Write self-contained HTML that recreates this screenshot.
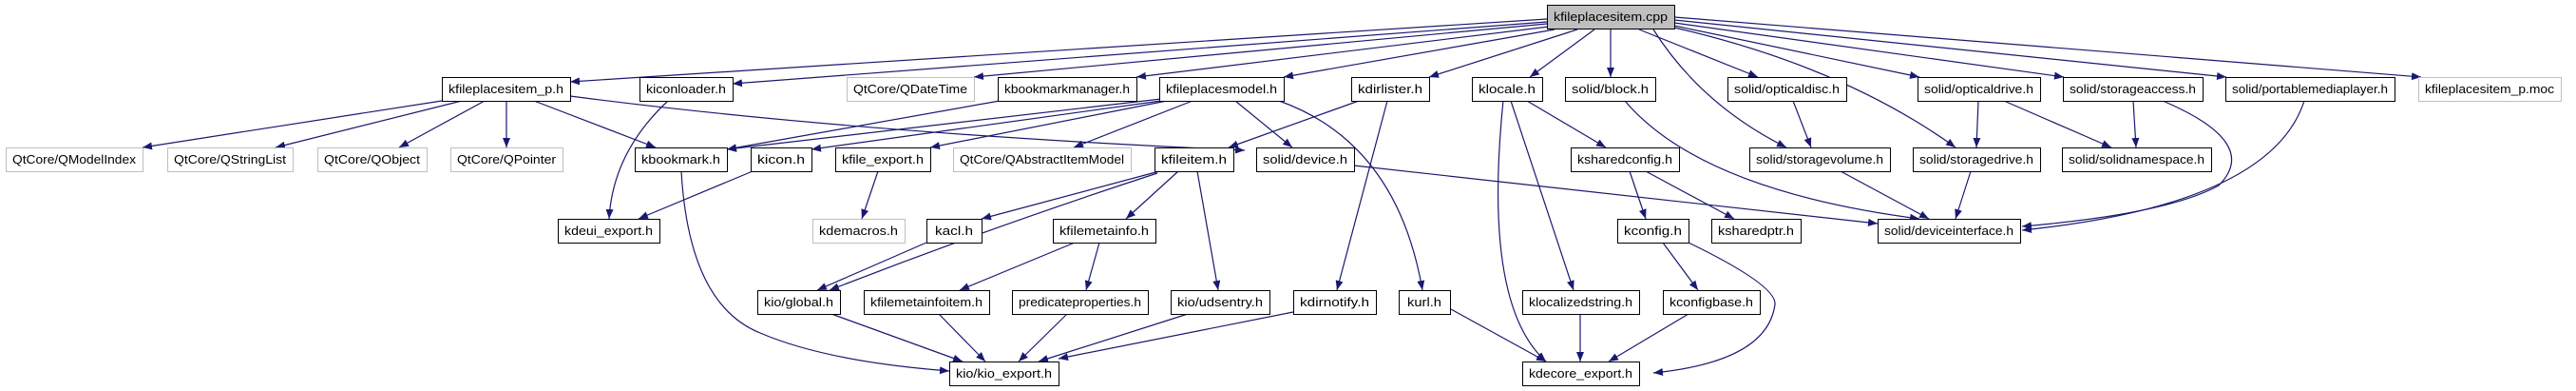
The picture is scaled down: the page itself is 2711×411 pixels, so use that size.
<!DOCTYPE html>
<html><head><meta charset="utf-8"><style>
html,body{margin:0;padding:0;background:#fff;}
svg{display:block;}
text{font-family:"Liberation Sans",sans-serif;font-size:13px;fill:#000;}
.e{fill:none;stroke:#191970;stroke-width:1.2;}
rect{fill:#fff;stroke:#000;stroke-width:1;}
rect.g{stroke:#bfbfbf;}
rect.c{fill:#bfbfbf;}
</style></head><body>
<svg width="2711" height="411" viewBox="0 0 2711 411" xmlns="http://www.w3.org/2000/svg">
<defs><marker id="a" viewBox="0 0 10 10" refX="10" refY="5" markerWidth="10" markerHeight="10" markerUnits="userSpaceOnUse" orient="auto"><path d="M0,1 L10,5 L0,9 z" fill="#191970"/></marker></defs>
<g marker-end="url(#a)">
<path class="e" d="M1628,20 L600,86"/>
<path class="e" d="M1628,23 L771,88"/>
<path class="e" d="M1628,25 L1025,81"/>
<path class="e" d="M1630,28 L1196,81"/>
<path class="e" d="M1636,31 L1351,81"/>
<path class="e" d="M1660,31 L1504,81"/>
<path class="e" d="M1678,31 L1610,81"/>
<path class="e" d="M1695,31 L1695,81"/>
<path class="e" d="M1725,31 L1850,81"/>
<path class="e" d="M1740,31 Q1790,110 1880,155"/>
<path class="e" d="M1762,27 L2020,81"/>
<path class="e" d="M1762,29 Q1940,70 2058,155"/>
<path class="e" d="M1762,24 L2172,81"/>
<path class="e" d="M1762,21 L2343,81"/>
<path class="e" d="M1762,18 L2548,81"/>
<path class="e" d="M465,106 L150,155"/>
<path class="e" d="M486,106 L290,155"/>
<path class="e" d="M510,106 L420,155"/>
<path class="e" d="M533,106 L533,155"/>
<path class="e" d="M562,106 L690,155"/>
<path class="e" d="M600,101 Q900,140 1310,158"/>
<path class="e" d="M703,106 Q645,160 641,230"/>
<path class="e" d="M1052,106 L765,157"/>
<path class="e" d="M1222,104 L765,157"/>
<path class="e" d="M1222,106 L854,157"/>
<path class="e" d="M1228,106 L979,155"/>
<path class="e" d="M1255,106 L1130,155"/>
<path class="e" d="M1300,106 L1360,155"/>
<path class="e" d="M1346,106 Q1470,150 1497,305"/>
<path class="e" d="M792,180 L672,230"/>
<path class="e" d="M717,180 Q725,320 800,350 Q870,380 999,390"/>
<path class="e" d="M924,180 L907,230"/>
<path class="e" d="M1430,106 L1293,155"/>
<path class="e" d="M1460,106 L1407,305"/>
<path class="e" d="M1220,180 L1033,230"/>
<path class="e" d="M1218,182 Q1040,240 873,305"/>
<path class="e" d="M1240,180 L1185,230"/>
<path class="e" d="M1260,180 L1282,305"/>
<path class="e" d="M1425,174 L1976,235"/>
<path class="e" d="M1607,106 L1690,155"/>
<path class="e" d="M1590,106 L1656,305"/>
<path class="e" d="M1582,106 Q1560,320 1627,380"/>
<path class="e" d="M1710,106 Q1790,200 2020,230"/>
<path class="e" d="M1715,180 L1732,230"/>
<path class="e" d="M1732,180 L1825,230"/>
<path class="e" d="M1750,255 L1787,305"/>
<path class="e" d="M1777,255 Q1870,300 1868,320 Q1860,380 1740,392"/>
<path class="e" d="M1777,330 L1693,380"/>
<path class="e" d="M1663,330 L1663,380"/>
<path class="e" d="M1527,325 L1627,380"/>
<path class="e" d="M975,255 L860,305"/>
<path class="e" d="M1131,255 L1010,305"/>
<path class="e" d="M1157,255 L1143,305"/>
<path class="e" d="M875,330 L1013,380"/>
<path class="e" d="M988,330 L1037,380"/>
<path class="e" d="M1123,330 L1072,380"/>
<path class="e" d="M1250,330 L1093,380"/>
<path class="e" d="M1361,328 L1114,377"/>
<path class="e" d="M1887,106 L1906,155"/>
<path class="e" d="M2082,106 L2080,155"/>
<path class="e" d="M2109,106 L2222,155"/>
<path class="e" d="M2245,106 L2248,155"/>
<path class="e" d="M2276,106 Q2380,150 2335,195 Q2280,225 2128,238"/>
<path class="e" d="M2425,106 Q2390,215 2128,242"/>
<path class="e" d="M1937,180 L2030,230"/>
<path class="e" d="M2074,180 L2058,230"/>
</g>
<g>
<rect class="c" x="1628.5" y="5.5" width="134" height="25"/><text x="1695" y="22" text-anchor="middle" textLength="120" lengthAdjust="spacingAndGlyphs">kfileplacesitem.cpp</text>
<rect x="465.5" y="81.5" width="135" height="25"/><text x="532.5" y="98" text-anchor="middle" textLength="121" lengthAdjust="spacingAndGlyphs">kfileplacesitem_p.h</text>
<rect x="673.5" y="81.5" width="98" height="25"/><text x="722" y="98" text-anchor="middle" textLength="84" lengthAdjust="spacingAndGlyphs">kiconloader.h</text>
<rect class="g" x="891.5" y="81.5" width="134" height="25"/><text x="958" y="98" text-anchor="middle" textLength="120" lengthAdjust="spacingAndGlyphs">QtCore/QDateTime</text>
<rect x="1050.5" y="81.5" width="146" height="25"/><text x="1123" y="98" text-anchor="middle" textLength="132" lengthAdjust="spacingAndGlyphs">kbookmarkmanager.h</text>
<rect x="1220.5" y="81.5" width="131" height="25"/><text x="1285.5" y="98" text-anchor="middle" textLength="117" lengthAdjust="spacingAndGlyphs">kfileplacesmodel.h</text>
<rect x="1422.5" y="81.5" width="82" height="25"/><text x="1463" y="98" text-anchor="middle" textLength="68" lengthAdjust="spacingAndGlyphs">kdirlister.h</text>
<rect x="1549.5" y="81.5" width="74" height="25"/><text x="1586" y="98" text-anchor="middle" textLength="60" lengthAdjust="spacingAndGlyphs">klocale.h</text>
<rect x="1647.5" y="81.5" width="95" height="25"/><text x="1694.5" y="98" text-anchor="middle" textLength="81" lengthAdjust="spacingAndGlyphs">solid/block.h</text>
<rect x="1818.5" y="81.5" width="125" height="25"/><text x="1880.5" y="98" text-anchor="middle" textLength="111" lengthAdjust="spacingAndGlyphs">solid/opticaldisc.h</text>
<rect x="2018.5" y="81.5" width="129" height="25"/><text x="2082.5" y="98" text-anchor="middle" textLength="115" lengthAdjust="spacingAndGlyphs">solid/opticaldrive.h</text>
<rect x="2171.5" y="81.5" width="147" height="25"/><text x="2244.5" y="98" text-anchor="middle" textLength="133" lengthAdjust="spacingAndGlyphs">solid/storageaccess.h</text>
<rect x="2342.5" y="81.5" width="178" height="25"/><text x="2431" y="98" text-anchor="middle" textLength="164" lengthAdjust="spacingAndGlyphs">solid/portablemediaplayer.h</text>
<rect class="g" x="2545.5" y="81.5" width="150" height="25"/><text x="2620" y="98" text-anchor="middle" textLength="136" lengthAdjust="spacingAndGlyphs">kfileplacesitem_p.moc</text>

<rect class="g" x="6.5" y="155.5" width="144" height="25"/><text x="78" y="172" text-anchor="middle" textLength="130" lengthAdjust="spacingAndGlyphs">QtCore/QModelIndex</text>
<rect class="g" x="176.5" y="155.5" width="132" height="25"/><text x="242" y="172" text-anchor="middle" textLength="118" lengthAdjust="spacingAndGlyphs">QtCore/QStringList</text>
<rect class="g" x="334.5" y="155.5" width="115" height="25"/><text x="391.5" y="172" text-anchor="middle" textLength="101" lengthAdjust="spacingAndGlyphs">QtCore/QObject</text>
<rect class="g" x="474.5" y="155.5" width="118" height="25"/><text x="533" y="172" text-anchor="middle" textLength="104" lengthAdjust="spacingAndGlyphs">QtCore/QPointer</text>
<rect x="668.5" y="155.5" width="97" height="25"/><text x="716.5" y="172" text-anchor="middle" textLength="83" lengthAdjust="spacingAndGlyphs">kbookmark.h</text>
<rect x="790.5" y="155.5" width="64" height="25"/><text x="822" y="172" text-anchor="middle" textLength="50" lengthAdjust="spacingAndGlyphs">kicon.h</text>
<rect x="879.5" y="155.5" width="100" height="25"/><text x="929" y="172" text-anchor="middle" textLength="86" lengthAdjust="spacingAndGlyphs">kfile_export.h</text>
<rect class="g" x="1003.5" y="155.5" width="187" height="25"/><text x="1096.5" y="172" text-anchor="middle" textLength="173" lengthAdjust="spacingAndGlyphs">QtCore/QAbstractItemModel</text>
<rect x="1215.5" y="155.5" width="83" height="25"/><text x="1256.5" y="172" text-anchor="middle" textLength="69" lengthAdjust="spacingAndGlyphs">kfileitem.h</text>
<rect x="1322.5" y="155.5" width="103" height="25"/><text x="1373.5" y="172" text-anchor="middle" textLength="89" lengthAdjust="spacingAndGlyphs">solid/device.h</text>
<rect x="1653.5" y="155.5" width="114" height="25"/><text x="1710" y="172" text-anchor="middle" textLength="100" lengthAdjust="spacingAndGlyphs">ksharedconfig.h</text>
<rect x="1841.5" y="155.5" width="148" height="25"/><text x="1915" y="172" text-anchor="middle" textLength="134" lengthAdjust="spacingAndGlyphs">solid/storagevolume.h</text>
<rect x="2013.5" y="155.5" width="134" height="25"/><text x="2080" y="172" text-anchor="middle" textLength="120" lengthAdjust="spacingAndGlyphs">solid/storagedrive.h</text>
<rect x="2170.5" y="155.5" width="157" height="25"/><text x="2248.5" y="172" text-anchor="middle" textLength="143" lengthAdjust="spacingAndGlyphs">solid/solidnamespace.h</text>

<rect x="587.5" y="230.5" width="107" height="25"/><text x="640.5" y="247" text-anchor="middle" textLength="93" lengthAdjust="spacingAndGlyphs">kdeui_export.h</text>
<rect class="g" x="855.5" y="230.5" width="97" height="25"/><text x="903.5" y="247" text-anchor="middle" textLength="83" lengthAdjust="spacingAndGlyphs">kdemacros.h</text>
<rect x="975.5" y="230.5" width="58" height="25"/><text x="1004" y="247" text-anchor="middle" textLength="40" lengthAdjust="spacingAndGlyphs">kacl.h</text>
<rect x="1108.5" y="230.5" width="108" height="25"/><text x="1162" y="247" text-anchor="middle" textLength="94" lengthAdjust="spacingAndGlyphs">kfilemetainfo.h</text>
<rect x="1702.5" y="230.5" width="75" height="25"/><text x="1739.5" y="247" text-anchor="middle" textLength="61" lengthAdjust="spacingAndGlyphs">kconfig.h</text>
<rect x="1801.5" y="230.5" width="94" height="25"/><text x="1848" y="247" text-anchor="middle" textLength="80" lengthAdjust="spacingAndGlyphs">ksharedptr.h</text>
<rect x="1976.5" y="230.5" width="150" height="25"/><text x="2051" y="247" text-anchor="middle" textLength="136" lengthAdjust="spacingAndGlyphs">solid/deviceinterface.h</text>

<rect x="797.5" y="305.5" width="87" height="25"/><text x="840.5" y="322" text-anchor="middle" textLength="73" lengthAdjust="spacingAndGlyphs">kio/global.h</text>
<rect x="909.5" y="305.5" width="132" height="25"/><text x="975" y="322" text-anchor="middle" textLength="118" lengthAdjust="spacingAndGlyphs">kfilemetainfoitem.h</text>
<rect x="1065.5" y="305.5" width="143" height="25"/><text x="1136.5" y="322" text-anchor="middle" textLength="129" lengthAdjust="spacingAndGlyphs">predicateproperties.h</text>
<rect x="1232.5" y="305.5" width="104" height="25"/><text x="1284" y="322" text-anchor="middle" textLength="90" lengthAdjust="spacingAndGlyphs">kio/udsentry.h</text>
<rect x="1361.5" y="305.5" width="87" height="25"/><text x="1404.5" y="322" text-anchor="middle" textLength="73" lengthAdjust="spacingAndGlyphs">kdirnotify.h</text>
<rect x="1472.5" y="305.5" width="54" height="25"/><text x="1499" y="322" text-anchor="middle" textLength="36" lengthAdjust="spacingAndGlyphs">kurl.h</text>
<rect x="1602.5" y="305.5" width="123" height="25"/><text x="1663.5" y="322" text-anchor="middle" textLength="109" lengthAdjust="spacingAndGlyphs">klocalizedstring.h</text>
<rect x="1750.5" y="305.5" width="102" height="25"/><text x="1801" y="322" text-anchor="middle" textLength="88" lengthAdjust="spacingAndGlyphs">kconfigbase.h</text>

<rect x="999.5" y="380.5" width="115" height="25"/><text x="1056.5" y="397" text-anchor="middle" textLength="101" lengthAdjust="spacingAndGlyphs">kio/kio_export.h</text>
<rect x="1602.5" y="380.5" width="123" height="25"/><text x="1663.5" y="397" text-anchor="middle" textLength="109" lengthAdjust="spacingAndGlyphs">kdecore_export.h</text>
</g>
</svg>
</body></html>
